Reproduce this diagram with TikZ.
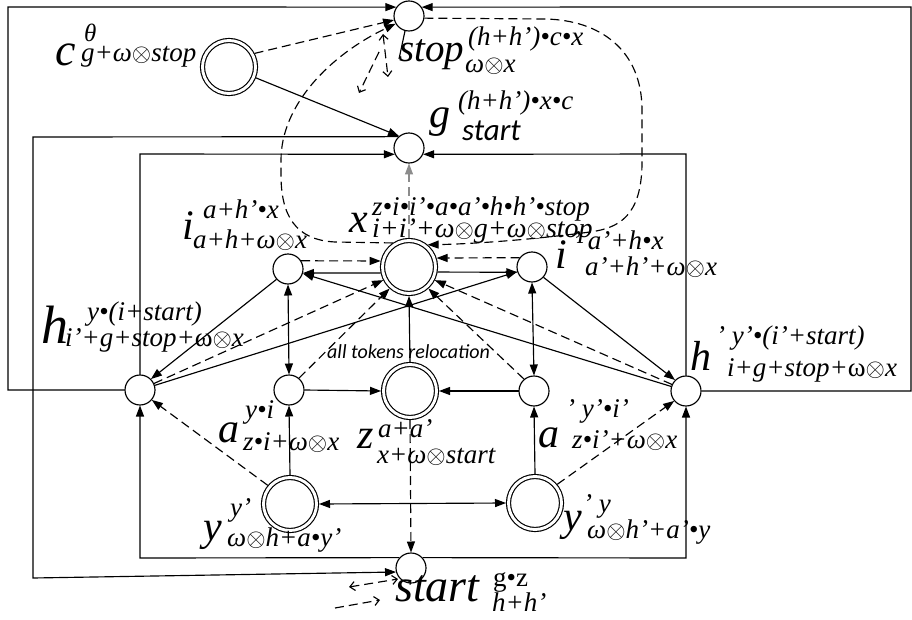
\documentclass[tikz,border=0pt]{standalone}
\usepackage{fontspec}
\setmainfont{Liberation Serif}
\newfontfamily\tms{Liberation Serif}
\newfontfamily\calib{Carlito}
\usetikzlibrary{arrows.meta}
\newcommand\ot{\ensuremath{\otimes}}
\tikzset{
  ln/.style={line width=1.15pt},
  dsh/.style={dash pattern=on 9pt off 5pt},
  >={Triangle[length=11pt,width=8pt]},
  st/.style={circle,draw,line width=1.15pt,minimum size=30pt,inner sep=0pt,outer sep=0.5pt,fill=white},
  dst/.style={circle,draw,line width=1.15pt,double,double distance=2.9pt,minimum size=53pt,inner sep=0pt,outer sep=2.5pt,fill=white},
  big/.style={anchor=base west,inner sep=0pt,font=\tms\fontsize{42}{42}\selectfont\itshape},
  sml/.style={anchor=base west,inner sep=0pt,font=\tms\fontsize{27}{27}\selectfont\itshape},
  fs/.style={font=\tms\fontsize{#1}{#1}\selectfont\itshape},
  sanslbl/.style={anchor=base west,inner sep=0pt,font=\calib\fontsize{31}{31}\selectfont\itshape},
  opn/.style={-{Straight Barb[length=5pt,width=9pt]}},
  opnb/.style={{Straight Barb[length=5pt,width=9pt]}-{Straight Barb[length=5pt,width=9pt]}},
}
\begin{document}
\begin{tikzpicture}[x=1pt,y=-1pt]
\useasboundingbox (0,0) rectangle (912,620);
% states
\node[st] (stop) at (409,16) {};
\node[dst] (c) at (229,67) {};
\node[st] (g) at (409,148) {};
\node[dst] (x) at (409,267) {};
\node[st] (i) at (288,269) {};
\node[st] (ip) at (532,267) {};
\node[st] (h) at (140,390) {};
\node[st] (a) at (289,390) {};
\node[dst] (z) at (410,391) {};
\node[st] (ap) at (534,391) {};
\node[st] (hp) at (686,391) {};
\node[dst] (y) at (290,504) {};
\node[dst] (yp) at (535,503) {};
\node[st] (start) at (411,568) {};
% labels
\node[big,fs=46] (cB) at (55,66) {c};
\node[sml,fs=25] (cS) at (84,42) {θ};
\node[sml] (cT) at (81,62) {g+ω\ot stop};
\node[big,fs=39] (sB) at (399,62) {stop};
\node[sml] (sS) at (468,46) {(h+h’)•c•x};
\node[sml] (sT) at (465,73) {ω\ot x};
\node[big] (gB) at (429,128) {g};
\node[sml] (gS) at (458,110) {(h+h’)•x•c};
\node[sanslbl] (gT) at (462,141) {start};
\node[big] (xB) at (349,233) {x};
\node[sml] (xS) at (372,216) {z•i•i’•a•a’•h•h’•stop};
\node[sml,fs=28] (xT) at (372,238) {i+i’+ω\ot g+ω\ot stop};
\node[big] (iB) at (182,240) {i};
\node[sml] (iS) at (203,219) {a+h’•x};
\node[sml] (iT) at (193,248) {a+h+ω\ot x};
\node[big] (ipB) at (555,268) {i};
\node[sml] (ipS) at (572,250) {’ a’+h•x};
\node[sml] (ipT) at (585,276) {a’+h’+ω\ot x};
\node[big,fs=54] (hB) at (41,343) {h};
\node[sml] (hS) at (87,320) {y•(i+start)};
\node[sml] (hT) at (65,346) {i’+g+stop+\textup{ω}\ot x};
\node[big] (hpB) at (690,370) {h};
\node[sml] (hpS) at (716,344) {’ y’•(i’+start)};
\node[sml] (hpT) at (727,376) {i+g+stop+\textup{ω}\ot x};
\node[big] (aB) at (218,442) {a};
\node[sml] (aS) at (245,418) {y•i};
\node[sml] (aT) at (243,450) {z•i+ω\ot x};
\node[big] (apB) at (538,447) {a};
\node[sml] (apS) at (566,417) {’ y’•i’};
\node[sml] (apT) at (572,448) {z•i’+ω\ot x};
\node[big] (zB) at (357,448) {z};
\node[sml] (zS) at (378,437) {a+a’};
\node[sml] (zT) at (377,463) {x+ω\ot start};
\node[big] (yB) at (203,540) {y};
\node[sml] (yS) at (230,516) {y’};
\node[sml] (yT) at (227,546) {ω\ot h+a•y’};
\node[big] (ypB) at (563,530) {y};
\node[sml] (ypS) at (583,512) {’ y};
\node[sml] (ypT) at (587,538) {ω\ot h’+a’•y};
\node[big,fs=46] (stB) at (395,601) {start};
\node[sml] (stS) at (493,586) {\textup{g•z}};
\node[sml] (stT) at (492,611) {h+h’};
\node[anchor=base west,inner sep=0pt,font=\calib\fontsize{20}{20}\selectfont\itshape] (all) at (327,358) {all tokens relocation};
% outer loops
\draw[ln,->] (h.west) -- (8,390) -- (8,7) -- (stop.145);
\draw[ln,->] (hp.east) -- (911,391) -- (911,7) -- (stop.35);
\draw[ln,->] (g.133) -- (33,137) -- (33,578) -- (start.195);
\draw[ln,->] (h.north) -- (140,154) -- (g.204);
\draw[ln,->] (hp.north) -- (686,154) -- (g.-24);
\draw[ln,->] (start.138) -- (140,558) -- (h.south);
\draw[ln,->] (start.42) -- (686,558) -- (hp.south);
% top part
\draw[ln,dsh,->] (c.28) -- (stop.195);
\draw[ln,->] (c.-22) -- (g.130);
\draw[ln,dsh,->] (x.124) -- (335,242) .. controls (295,240) and (281,215) .. (281,175) -- (281,160) .. controls (281,105) and (330,55) .. (stop.210);
\draw[ln,dsh,->] (stop.-8) -- (545,19) .. controls (600,20) and (642,50) .. (642,110) -- (642,165) .. controls (641,215) and (620,228) .. (590,232) .. controls (530,240) and (470,244) .. (x.50);
\draw[ln,dsh,->,black!45] (x.north) -- (g.south);
\draw[ln] (stop.255) -- (399,59);
\draw[ln,dsh,opnb] (383,34) -- (388,77);
\draw[ln,dsh,opn] (379,52) -- (359,93);
% core
\draw[ln,dsh,->] (i.32) -- (x.168);
\draw[ln,->] (x.192) -- (i.-15);
\draw[ln,dsh,->] (ip.143) -- (x.18);
\draw[ln,->] (x.-10) -- (ip.-160);
\draw[ln,<->] (i.south) -- (a.north);
\draw[ln,<->] (ip.south) -- (ap.north);
\draw[ln,->] (a.east) -- (z.west);
\draw[ln,->] (ap.west) -- (z.east);
\draw[ln,->] (z.north) -- (x.south);
\draw[ln,dsh,->] (a.50) -- (x.228);
\draw[ln,dsh,->] (ap.130) -- (x.-48);
\draw[ln,dsh,->] (h.25) -- (x.207);
\draw[ln,dsh,->] (hp.155) -- (x.-27);
\draw[ln,->] (h) -- (ip);
\draw[ln,->] (hp) -- (i);
\draw[ln,->] (i.222) -- (h.45);
\draw[ln,->] (ip.-42) -- (hp.135);
\draw[ln,dsh,->] (y.140) -- (h.-40);
\draw[ln,dsh,->] (yp.40) -- (hp.-140);
\draw[ln,->] (y.north) -- (a.south);
\draw[ln,->] (yp.north) -- (ap.south);
\draw[ln,<->] (y.east) -- (yp.west);
\draw[ln,dsh,->] (z.south) -- (start.north);
% small dashed arrows near start
\draw[ln,dsh,opnb] (349,587) -- (398,579);
\draw[ln,dsh,opn] (335,608) -- (380,600);
\end{tikzpicture}
\end{document}
